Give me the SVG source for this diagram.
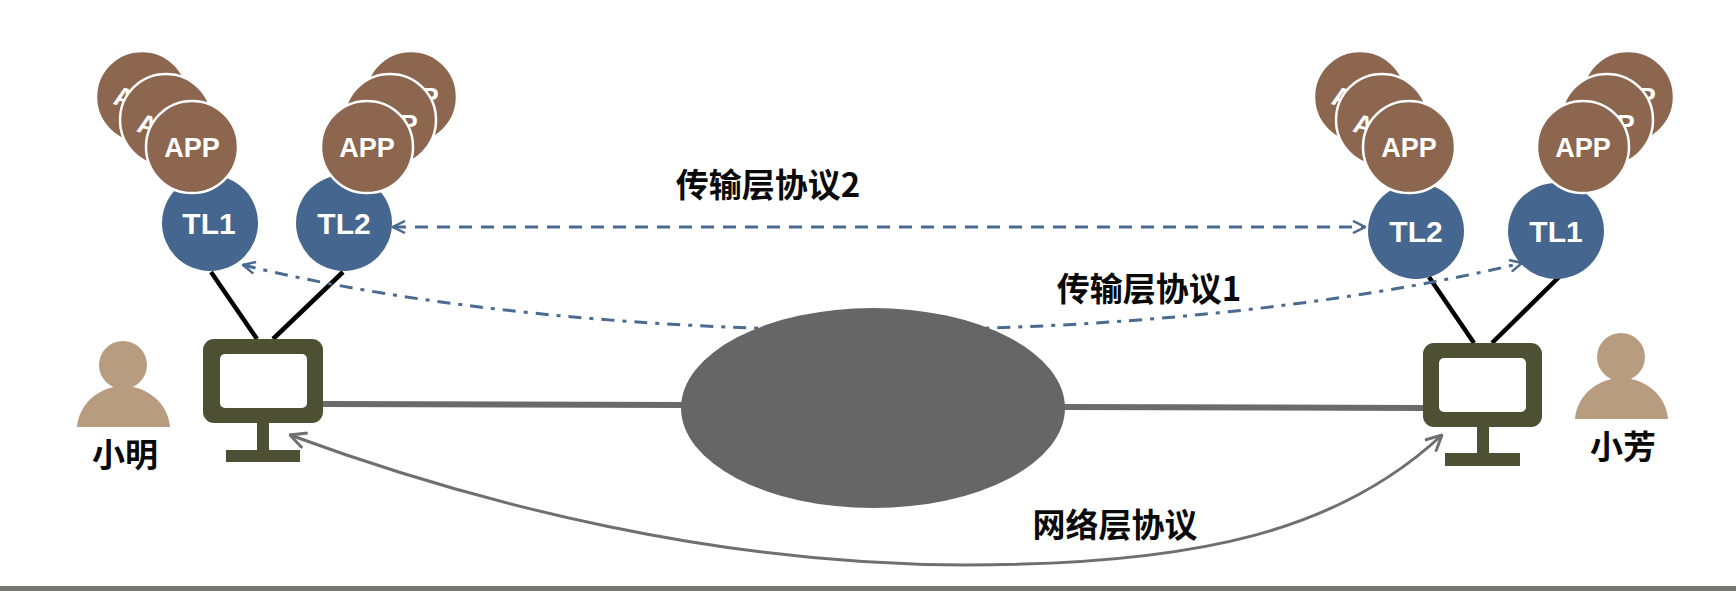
<svg xmlns="http://www.w3.org/2000/svg" width="1736" height="594" viewBox="0 0 1736 594">
<style>
.app{fill:#8d6650;stroke:#fff;stroke-width:2.5}
.tl{fill:#45668e}
.apptxt{font:bold 27px "Liberation Sans",Arial,sans-serif;fill:#fff;text-anchor:middle}
.tltxt{font:bold 30px "Liberation Sans",Arial,sans-serif;fill:#fff;text-anchor:middle}
.lbl{font:bold 33px "Noto Sans CJK SC","Liberation Sans",sans-serif;fill:#0a0a0a;text-anchor:middle}
.mon{fill:#4e5033}
.screen{fill:#fff}
.person{fill:#b89c80}
.link{stroke:#000;stroke-width:4.500;fill:none}
.net{stroke:#6b6b6b;stroke-width:6;fill:none}
.dash{stroke:#4a6a90;stroke-width:3;fill:none;stroke-dasharray:13 9}
.dashdot{stroke:#4a6a90;stroke-width:3;fill:none;stroke-dasharray:13 8 4 8}
.gray{stroke:#6f6f6f;stroke-width:3;fill:none}
</style>
<defs>
<marker id="ab" viewBox="0 0 14 14" refX="13" refY="7" markerWidth="14" markerHeight="14" markerUnits="userSpaceOnUse" orient="auto-start-reverse"><path d="M1,1 L13,7 L1,13" fill="none" stroke="#4a6a90" stroke-width="2.500"/></marker>
<marker id="ag" viewBox="0 0 18 18" refX="17" refY="9" markerWidth="18" markerHeight="18" markerUnits="userSpaceOnUse" orient="auto-start-reverse"><path d="M1,1 L17,9 L1,17" fill="none" stroke="#6f6f6f" stroke-width="3"/></marker>
</defs>
<rect width="1736" height="594" fill="#fff"/>
<g id="connectors">
<line class="net" x1="323" y1="404" x2="685" y2="405"/>
<line class="net" x1="1060" y1="407" x2="1425" y2="408"/>
<line class="link" x1="211" y1="272" x2="257" y2="339"/>
<line class="link" x1="343" y1="272" x2="273" y2="339"/>
<line class="link" x1="1429" y1="277" x2="1474" y2="343"/>
<line class="link" x1="1559" y1="277" x2="1492" y2="343"/>
<path class="dash" d="M393,227 H1365" marker-start="url(#ab)" marker-end="url(#ab)"/>
<path class="dashdot" d="M243,265 C600,352 1150,352 1522,263" marker-start="url(#ab)" marker-end="url(#ab)"/>
<path class="gray" d="M290,435 C480,505 720,565 965,565 C1200,565 1340,530 1442,435" marker-start="url(#ag)" marker-end="url(#ag)"/>
</g>
<g id="network"><ellipse cx="873" cy="408" rx="192" ry="100" fill="#666"/></g>
<g id="tl1-l"><circle class="tl" cx="210" cy="223" r="48"/><text class="tltxt" x="209" y="234">TL1</text></g>
<g id="tl2-l"><circle class="tl" cx="344" cy="223" r="48"/><text class="tltxt" x="344" y="234">TL2</text></g>
<g id="tl2-r"><circle class="tl" cx="1416" cy="231" r="48"/><text class="tltxt" x="1416" y="242">TL2</text></g>
<g id="tl1-r"><circle class="tl" cx="1556" cy="231" r="48"/><text class="tltxt" x="1556" y="242">TL1</text></g>
<g id="app-l1">
<circle class="app" cx="142" cy="97" r="46"/><text class="apptxt" transform="rotate(15 122 97)" x="142" y="106">APP</text>
<circle class="app" cx="166" cy="120" r="46"/><text class="apptxt" transform="rotate(15 147 123)" x="166" y="134">APP</text>
<circle class="app" cx="192" cy="147" r="46"/><text class="apptxt" x="192" y="157">APP</text>
</g>
<g id="app-l2">
<circle class="app" cx="411" cy="97" r="46"/><text class="apptxt" x="411" y="107">APP</text>
<circle class="app" cx="390" cy="120" r="46"/><text class="apptxt" x="390" y="134">APP</text>
<circle class="app" cx="367" cy="147" r="46"/><text class="apptxt" x="367" y="157">APP</text>
</g>
<g id="app-r1">
<circle class="app" cx="1360" cy="97" r="46"/><text class="apptxt" transform="rotate(15 1340 97)" x="1360" y="106">APP</text>
<circle class="app" cx="1382" cy="120" r="46"/><text class="apptxt" transform="rotate(15 1363 123)" x="1382" y="134">APP</text>
<circle class="app" cx="1409" cy="147" r="46"/><text class="apptxt" x="1409" y="157">APP</text>
</g>
<g id="app-r2">
<circle class="app" cx="1628" cy="97" r="46"/><text class="apptxt" x="1628" y="107">APP</text>
<circle class="app" cx="1607" cy="120" r="46"/><text class="apptxt" x="1607" y="134">APP</text>
<circle class="app" cx="1583" cy="147" r="46"/><text class="apptxt" x="1583" y="157">APP</text>
</g>
<g id="pc-l">
<rect class="mon" x="203" y="339" width="120" height="84" rx="11"/><rect class="screen" x="220" y="354" width="87" height="54" rx="5"/>
<rect class="mon" x="257" y="423" width="12" height="28"/><rect class="mon" x="226" y="450" width="74" height="12"/>
</g>
<g id="pc-r">
<rect class="mon" x="1423" y="343" width="119" height="84" rx="11"/><rect class="screen" x="1439" y="358" width="87" height="54" rx="5"/>
<rect class="mon" x="1477" y="427" width="12" height="28"/><rect class="mon" x="1445" y="453" width="75" height="13"/>
</g>
<g id="xiaoming">
<circle class="person" cx="123" cy="365" r="24"/><path class="person" d="M77,427 C79,403 100,386 123.500,386 C147,386 168,403 170,427Z"/>
<text class="lbl" x="125" y="467">小明</text>
</g>
<g id="xiaofang">
<circle class="person" cx="1621" cy="357" r="24"/><path class="person" d="M1575,419 C1577,395 1598,378 1621.500,378 C1645,378 1666,395 1668,419Z"/>
<text class="lbl" x="1623" y="459">小芳</text>
</g>
<text class="lbl" x="768" y="197">传输层协议2</text>
<text class="lbl" x="1149" y="301">传输层协议1</text>
<text class="lbl" x="1115" y="537">网络层协议</text>
<rect x="0" y="586" width="1736" height="5" fill="#77776f"/>
</svg>
